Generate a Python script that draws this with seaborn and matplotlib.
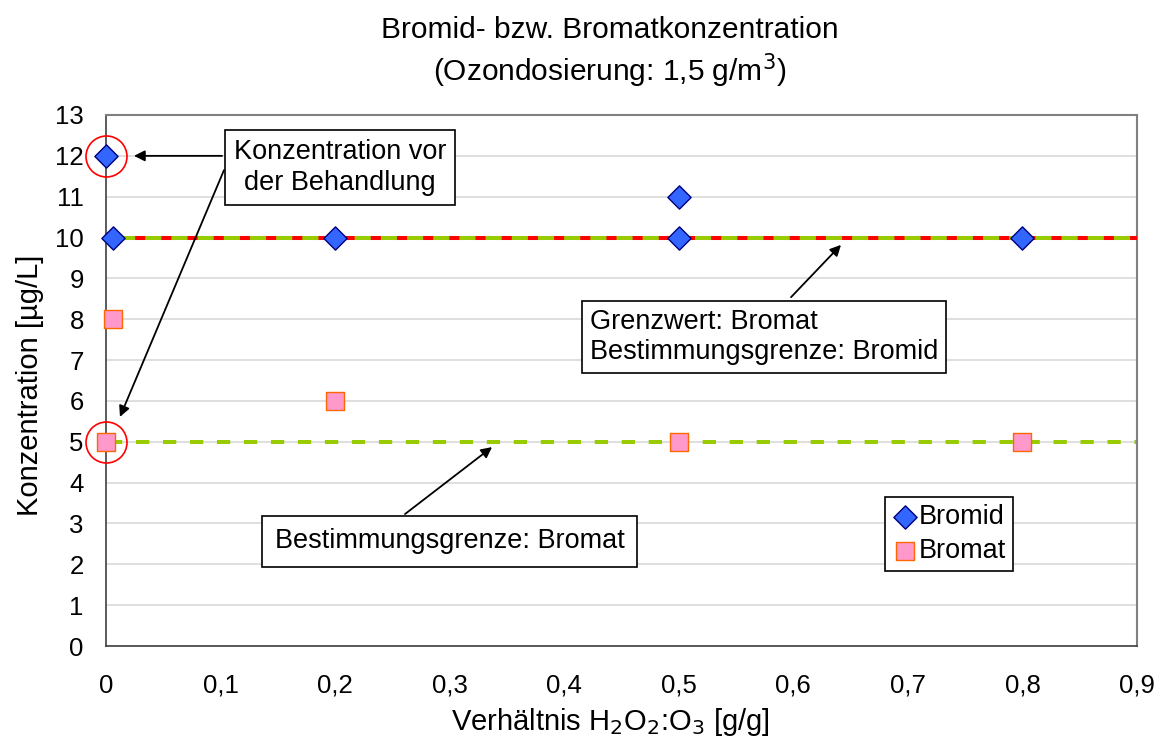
import matplotlib
matplotlib.use("Agg")
import matplotlib.pyplot as plt
import seaborn as sns
import pandas as pd
import numpy as np

# ---- data ----
bromid_x = [0.0, 0.006, 0.2, 0.5, 0.5, 0.8]
bromid_y = [12, 10, 10, 11, 10, 10]
bromat_x = [0.0, 0.006, 0.2, 0.5, 0.8]
bromat_y = [5, 8, 6, 5, 5]
limit_x = [0.003, 0.9]
grenzwert_bromat = [10, 10]
bestgrenze_bromat = [5, 5]
circle_x = [0.0, 0.0]
circle_y = [12, 5]
x_ticks = [0, 0.1, 0.2, 0.3, 0.4, 0.5, 0.6, 0.7, 0.8, 0.9]
x_ticklabels = ["0", "0,1", "0,2", "0,3", "0,4", "0,5", "0,6", "0,7", "0,8", "0,9"]
y_ticks = list(range(0, 14))

sns.set_theme(style="white")
plt.rcParams['font.family'] = ['Liberation Sans', 'DejaVu Sans']
plt.rcParams['text.color'] = 'black'
plt.rcParams['axes.labelcolor'] = 'black'

fig = plt.figure(figsize=(11.57, 7.39), dpi=100)
ax = fig.add_axes([106/1157, 1-646/739, (1137-106)/1157, (646-115)/739])

# limit lines
sns.lineplot(x=limit_x, y=grenzwert_bromat, ax=ax, color="#99CC00", lw=2.9, zorder=2)
sns.lineplot(x=limit_x, y=grenzwert_bromat, ax=ax, color="#FF0000", lw=2.9, zorder=3)
ax.lines[-1].set_dashes([2.5, 4.0])
sns.lineplot(x=limit_x, y=bestgrenze_bromat, ax=ax, color="#99CC00", lw=2.9, zorder=2)
ax.lines[-1].set_dashes([3.3, 3.4])

# scatter series
sns.scatterplot(x=bromid_x, y=bromid_y, ax=ax, marker="D", s=140,
                color="#3366FF", edgecolor="#000080", linewidth=1.0,
                label="Bromid", zorder=5, clip_on=False)
sns.scatterplot(x=bromat_x, y=bromat_y, ax=ax, marker="s", s=160,
                color="#FF99CC", edgecolor="#FF6600", linewidth=1.0,
                label="Bromat", zorder=5, clip_on=False)

# red circles
ax.plot(circle_x, circle_y, linestyle="none", marker="o", markersize=29.5,
        mfc="none", mec="#FF0000", mew=1.2, zorder=6, clip_on=False)

ax.set_xlim(0, 0.9)
ax.set_ylim(0, 13)
ax.set_xticks(x_ticks)
ax.set_xticklabels(x_ticklabels)
ax.set_yticks(y_ticks)
ax.tick_params(axis="both", labelsize=18.5, direction="out", length=6,
               width=1, colors="#404040", labelcolor="black")
ax.tick_params(axis="x", pad=14)
ax.tick_params(axis="y", pad=10)
ax.yaxis.grid(True, color="#D9D9D9", lw=1.2)
ax.xaxis.grid(False)
ax.set_axisbelow(True)
for s in ["left", "bottom"]:
    ax.spines[s].set_color("#404040")
    ax.spines[s].set_linewidth(1.2)
for s in ["top", "right"]:
    ax.spines[s].set_color("#808080")
    ax.spines[s].set_linewidth(1.5)

# text boxes
ax.text(0.2043, 11.71, "Konzentration vor\nder Behandlung", ha="center", va="center",
        fontsize=19.5, bbox=dict(boxstyle="square,pad=0.33", fc="white", ec="black", lw=1.2),
        zorder=8, linespacing=1.25)
ax.text(0.5744, 7.56, "Grenzwert: Bromat\nBestimmungsgrenze: Bromid", ha="center",
        multialignment="left", va="center", fontsize=19.5,
        bbox=dict(boxstyle="square,pad=0.3", fc="white", ec="black", lw=1.2),
        zorder=8, linespacing=1.2)
ax.text(0.2999, 2.56, "Bestimmungsgrenze: Bromat", ha="center", va="center",
        fontsize=19.5, bbox=dict(boxstyle="square,pad=0.45", fc="white", ec="black", lw=1.2),
        zorder=8)

arrows = [((0.1013, 12.0), (0.0244, 12.0)),
          ((0.103, 11.65), (0.0122, 5.61)),
          ((0.598, 8.54), (0.6416, 9.82)),
          ((0.261, 3.23), (0.337, 4.87))]
for start, end in arrows:
    ax.annotate("", xy=end, xytext=start,
                arrowprops=dict(arrowstyle="-|>", color="black", lw=1.3,
                                mutation_scale=16, shrinkA=0, shrinkB=0),
                zorder=7)

leg = ax.legend(loc="upper left", bbox_to_anchor=(885/1157, 1-497/739),
                bbox_transform=fig.transFigure, frameon=True, fancybox=False,
                edgecolor="black", framealpha=1, fontsize=19.5, handletextpad=0.0,
                borderpad=0.25, labelspacing=0.3, handlelength=1.0, borderaxespad=0)
leg.get_frame().set_linewidth(1.2)
leg.set_zorder(9)

fig.text(610/1157, 1-30/739, "Bromid- bzw. Bromatkonzentration", ha="center",
         va="center", fontsize=21.5)
fig.text(610/1157, 1-71/739, "(Ozondosierung: 1,5 g/m$^3$)", ha="center",
         va="center", fontsize=21.5)
fig.text(610/1157, 1-722/739, "Verhältnis H$_2$O$_2$:O$_3$ [g/g]", ha="center",
         va="center", fontsize=21)
fig.text(30/1157, 1-385/739, "Konzentration [µg/L]", ha="center", va="center",
         rotation=90, fontsize=21)

fig.savefig("out.png", dpi=100)
